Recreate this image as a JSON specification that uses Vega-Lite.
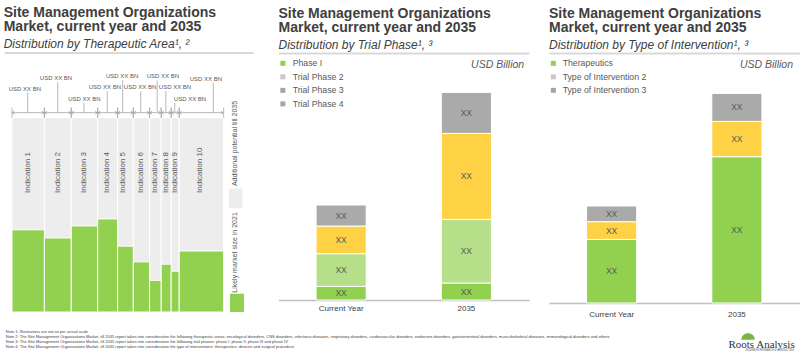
{
  "$schema": "https://vega.github.io/schema/vega-lite/v6.json",
  "padding": {"left": 3, "top": 5, "right": 0, "bottom": 0},
  "background": "white",
  "config": {
    "font": "Liberation Sans",
    "view": {"stroke": null},
    "title": {"anchor": "start", "fontSize": 14, "fontWeight": "bold", "color": "#404040", "lineHeight": 14, "subtitleFontSize": 12, "subtitleFontStyle": "italic", "subtitleColor": "#404040", "subtitlePadding": 5.5, "offset": 2}
  },
  "datasets": {
    "ind": [
      {"n": "Indication 1", "x0": 0, "x1": 15.3, "v": 42.3, "tot": 100, "cx": 7.4, "lx": 7.4, "tx": 6.1, "ly": 112.9},
      {"n": "Indication 2", "x0": 15.3, "x1": 28.0, "v": 38.1, "tot": 100, "cx": 21.9, "lx": 21.6, "tx": 20.8, "ly": 118.3},
      {"n": "Indication 3", "x0": 28.0, "x1": 40.5, "v": 44.3, "tot": 100, "cx": 34.2, "lx": 34.0, "tx": 34.2, "ly": 107.7},
      {"n": "Indication 4", "x0": 40.5, "x1": 49.9, "v": 47.9, "tot": 100, "cx": 45.0, "lx": 45.0, "tx": 43.9, "ly": 113.7},
      {"n": "Indication 5", "x0": 49.9, "x1": 57.3, "v": 33.9, "tot": 100, "cx": 52.4, "lx": 52.3, "tx": 52.0, "ly": 119.2},
      {"n": "Indication 6", "x0": 57.3, "x1": 65.0, "v": 25.8, "tot": 100, "cx": 61.0, "lx": 60.8, "tx": 60.5, "ly": 113.7},
      {"n": "Indication 7", "x0": 65.0, "x1": 70.5, "v": 16.3, "tot": 100, "cx": 67.7, "lx": 68.6, "tx": 71.3, "ly": 119.2},
      {"n": "Indication 8", "x0": 70.5, "x1": 75.2, "v": 24.6, "tot": 100, "cx": 72.8, "lx": 72.7, "tx": 77.0, "ly": 113.7},
      {"n": "Indication 9", "x0": 75.2, "x1": 79.0, "v": 21.0, "tot": 100, "cx": 77.0, "lx": 76.9, "tx": 84.1, "ly": 107.7},
      {"n": "Indication 10", "x0": 79.0, "x1": 100, "v": 31.4, "tot": 100, "cx": 88.8, "lx": 95.1, "tx": 91.6, "ly": 118.0}
    ],
    "phase": [
      {"yr": "Current Year", "phase": "Phase I", "v": 1.36},
      {"yr": "Current Year", "phase": "Trial Phase 2", "v": 3.27},
      {"yr": "Current Year", "phase": "Trial Phase 3", "v": 2.77},
      {"yr": "Current Year", "phase": "Trial Phase 4", "v": 2.10},
      {"yr": "2035", "phase": "Phase I", "v": 1.70},
      {"yr": "2035", "phase": "Trial Phase 2", "v": 6.36},
      {"yr": "2035", "phase": "Trial Phase 3", "v": 8.60},
      {"yr": "2035", "phase": "Trial Phase 4", "v": 4.10}
    ],
    "interv": [
      {"yr": "Current Year", "t": "Therapeutics", "v": 6.36},
      {"yr": "Current Year", "t": "Type of Intervention 2", "v": 1.77},
      {"yr": "Current Year", "t": "Type of Intervention 3", "v": 1.57},
      {"yr": "2035", "t": "Therapeutics", "v": 14.63},
      {"yr": "2035", "t": "Type of Intervention 2", "v": 3.53},
      {"yr": "2035", "t": "Type of Intervention 3", "v": 2.80}
    ],
    "notes": [
      {"row": 1, "t": "Note 1: Illustrations are not as per actual scale"},
      {"row": 2, "t": "Note 2: The Site Management Organizations Market, till 2035 report takes into consideration the following therapeutic areas: oncological disorders, CNS disorders, infectious diseases, respiratory disorders, cardiovascular disorders, endocrine disorders, gastrointestinal disorders, musculoskeletal diseases, immunological disorders and others"},
      {"row": 3, "t": "Note 3: The Site Management Organizations Market, till 2035 report takes into consideration the following trial phases: phase I, phase II, phase III and phase IV"},
      {"row": 4, "t": "Note 4: The Site Management Organizations Market, till 2035 report takes into consideration the type of interventions: therapeutics, devices and surgical procedure"}
    ]
  },
  "vconcat": [
    {
      "spacing": 19.5,
      "resolve": {"scale": {"fill": "independent", "color": "independent"}, "legend": {"color": "independent"}},
      "hconcat": [
        {
          "width": 254,
          "height": 259,
          "title": {"text": ["Site Management Organizations", "Market, current year and 2035"], "subtitle": "Distribution by Therapeutic Area¹, ²"},
          "data": {"name": "ind"},
          "layer": [
            {"data": {"values": [{"a": -3.45, "b": 114.2, "top": 133.3}]}, "mark": {"type": "rule", "color": "#d9d9d9", "strokeWidth": 2},
             "encoding": {"x": {"field": "a", "type": "quantitative", "scale": {"domain": [-3.3, 116.7], "nice": false, "zero": false}, "axis": null}, "x2": {"field": "b"},
                          "y": {"field": "top", "type": "quantitative", "scale": {"domain": [0, 133.3], "nice": false, "zero": false}, "axis": null}}},
            {"mark": {"type": "rect", "fill": "#ededed", "stroke": "#ffffff", "strokeWidth": 1},
             "encoding": {"x": {"field": "x0", "type": "quantitative", "scale": {"domain": [-3.3, 116.7], "nice": false, "zero": false}, "axis": null}, "x2": {"field": "x1"},
                          "y": {"field": "tot", "type": "quantitative", "scale": {"domain": [0, 133.3], "nice": false, "zero": false}, "axis": null}, "y2": {"datum": 0}}},
            {"mark": {"type": "rect", "fill": "#92d050", "stroke": "#ffffff", "strokeWidth": 1},
             "encoding": {"x": {"field": "x0", "type": "quantitative", "scale": {"domain": [-3.3, 116.7], "nice": false, "zero": false}, "axis": null}, "x2": {"field": "x1"},
                          "y": {"field": "v", "type": "quantitative", "scale": {"domain": [0, 133.3], "nice": false, "zero": false}, "axis": null}, "y2": {"datum": 0}}},
            {"mark": {"type": "text", "angle": 270, "align": "left", "baseline": "middle", "fontSize": 8, "color": "#595959"},
             "encoding": {"x": {"field": "cx", "type": "quantitative", "scale": {"domain": [-3.3, 116.7], "nice": false, "zero": false}, "axis": null},
                          "y": {"datum": 61.3, "type": "quantitative", "scale": {"domain": [0, 133.3], "nice": false, "zero": false}, "axis": null}, "text": {"field": "n"}}},
            {"mark": {"type": "rule", "color": "#a6a6a6", "strokeWidth": 0.8},
             "encoding": {"x": {"field": "x0", "type": "quantitative", "scale": {"domain": [-3.3, 116.7], "nice": false, "zero": false}, "axis": null}, "x2": {"field": "x1"},
                          "y": {"datum": 102.6, "type": "quantitative", "scale": {"domain": [0, 133.3], "nice": false, "zero": false}, "axis": null}}},
            {"mark": {"type": "rule", "color": "#a6a6a6", "strokeWidth": 0.8},
             "encoding": {"x": {"field": "x0", "type": "quantitative", "scale": {"domain": [-3.3, 116.7], "nice": false, "zero": false}, "axis": null},
                          "y": {"datum": 100, "type": "quantitative", "scale": {"domain": [0, 133.3], "nice": false, "zero": false}, "axis": null}, "y2": {"datum": 105.2}}},
            {"mark": {"type": "rule", "color": "#a6a6a6", "strokeWidth": 0.8},
             "encoding": {"x": {"field": "x1", "type": "quantitative", "scale": {"domain": [-3.3, 116.7], "nice": false, "zero": false}, "axis": null},
                          "y": {"datum": 100, "type": "quantitative", "scale": {"domain": [0, 133.3], "nice": false, "zero": false}, "axis": null}, "y2": {"datum": 105.2}}},
            {"mark": {"type": "point", "shape": "M1.6,-1L0.4,0L1.6,1", "size": 10, "filled": false, "stroke": "#8c8c8c", "strokeWidth": 0.7, "opacity": 1},
             "encoding": {"x": {"field": "x0", "type": "quantitative", "scale": {"domain": [-3.3, 116.7], "nice": false, "zero": false}, "axis": null},
                          "y": {"datum": 102.6, "type": "quantitative", "scale": {"domain": [0, 133.3], "nice": false, "zero": false}, "axis": null}}},
            {"mark": {"type": "point", "shape": "M-1.6,-1L-0.4,0L-1.6,1", "size": 10, "filled": false, "stroke": "#8c8c8c", "strokeWidth": 0.7, "opacity": 1},
             "encoding": {"x": {"field": "x1", "type": "quantitative", "scale": {"domain": [-3.3, 116.7], "nice": false, "zero": false}, "axis": null},
                          "y": {"datum": 102.6, "type": "quantitative", "scale": {"domain": [0, 133.3], "nice": false, "zero": false}, "axis": null}}},
            {"mark": {"type": "rule", "color": "#a6a6a6", "strokeWidth": 0.8},
             "encoding": {"x": {"field": "lx", "type": "quantitative", "scale": {"domain": [-3.3, 116.7], "nice": false, "zero": false}, "axis": null},
                          "y": {"field": "ly", "type": "quantitative", "scale": {"domain": [0, 133.3], "nice": false, "zero": false}, "axis": null}, "y2": {"datum": 102.6}}},
            {"mark": {"type": "text", "align": "center", "baseline": "alphabetic", "dy": -2, "fontSize": 6, "color": "#595959"},
             "encoding": {"x": {"field": "tx", "type": "quantitative", "scale": {"domain": [-3.3, 116.7], "nice": false, "zero": false}, "axis": null},
                          "y": {"field": "ly", "type": "quantitative", "scale": {"domain": [0, 133.3], "nice": false, "zero": false}, "axis": null}, "text": {"value": "USD XX BN"}}},
            {"data": {"values": [{"a": 102.5, "b": 108.9, "c": 53.4, "d": 63.5}]}, "mark": {"type": "rect", "fill": "#ededed"},
             "encoding": {"x": {"field": "a", "type": "quantitative", "scale": {"domain": [-3.3, 116.7], "nice": false, "zero": false}, "axis": null}, "x2": {"field": "b"},
                          "y": {"field": "c", "type": "quantitative", "scale": {"domain": [0, 133.3], "nice": false, "zero": false}, "axis": null}, "y2": {"field": "d"}}},
            {"data": {"values": [{"a": 103, "b": 109.6, "c": 0, "d": 9.4}]}, "mark": {"type": "rect", "fill": "#92d050"},
             "encoding": {"x": {"field": "a", "type": "quantitative", "scale": {"domain": [-3.3, 116.7], "nice": false, "zero": false}, "axis": null}, "x2": {"field": "b"},
                          "y": {"field": "c", "type": "quantitative", "scale": {"domain": [0, 133.3], "nice": false, "zero": false}, "axis": null}, "y2": {"field": "d"}}},
            {"data": {"values": [{"t": "Additional potential till 2035", "a": 105.5, "c": 64.8}, {"t": "Likely market size in 2021", "a": 105.5, "c": 9.9}]}, "mark": {"type": "text", "angle": 270, "align": "left", "baseline": "middle", "fontSize": 7, "color": "#595959"},
             "encoding": {"x": {"field": "a", "type": "quantitative", "scale": {"domain": [-3.3, 116.7], "nice": false, "zero": false}, "axis": null},
                          "y": {"field": "c", "type": "quantitative", "scale": {"domain": [0, 133.3], "nice": false, "zero": false}, "axis": null}, "text": {"field": "t"}}}
          ]
        },
        {
          "width": 250.5,
          "height": 247,
          "title": {"text": ["Site Management Organizations", "Market, current year and 2035"], "subtitle": "Distribution by Trial Phase¹, ³"},
          "data": {"name": "phase"},
          "resolve": {"axis": {"x": "independent"}},
          "layer": [
            {"mark": {"type": "bar", "stroke": "#ffffff", "strokeWidth": 1},
             "encoding": {
               "x": {"field": "yr", "type": "nominal", "sort": ["Current Year", "2035"], "scale": {"paddingInner": 0.6, "paddingOuter": 0.3},
                     "axis": {"orient": "bottom", "title": null, "labelAngle": 0, "ticks": false, "domainColor": "#bfbfbf", "domainWidth": 1.5, "labelFontSize": 8, "labelColor": "#404040", "labelPadding": 4.5}},
               "y": {"field": "v", "type": "quantitative", "stack": "zero", "scale": {"domain": [0, 24.7], "nice": false, "zero": true}, "axis": null},
               "fill": {"field": "phase", "type": "nominal", "scale": {"range": ["#92d050", "#b5df88", "#ffd145", "#aaaaaa"]}, "legend": null},
               "order": {"field": "phase", "sort": "ascending"}
             }},
            {"mark": {"type": "square", "filled": true, "opacity": 0},
             "encoding": {
               "x": {"field": "yr", "type": "nominal", "sort": ["Current Year", "2035"], "axis": null},
               "y": {"field": "v", "type": "quantitative", "scale": {"domain": [0, 24.7], "nice": false, "zero": true}, "axis": null},
               "color": {"field": "phase", "type": "nominal", "scale": {"domain": ["Phase I", "Trial Phase 2", "Trial Phase 3", "Trial Phase 4"], "range": ["#92d050", "#c9c9c9", "#a6a6a6", "#a6a6a6"]},
                         "legend": {"orient": "none", "legendX": 0, "legendY": 6, "title": null, "symbolType": "square", "symbolSize": 25, "symbolOpacity": 1, "symbolStrokeWidth": 0, "labelFontSize": 8.7, "labelColor": "#595959", "rowPadding": 3.5, "labelOffset": 5.5}}
             }},
            {"mark": {"type": "text", "fontSize": 8.5, "color": "#595959", "baseline": "middle"},
             "encoding": {
               "x": {"field": "yr", "type": "nominal", "sort": ["Current Year", "2035"],
                     "axis": {"orient": "top", "labels": false, "ticks": false, "grid": false, "domainColor": "#d9d9d9", "domainWidth": 2,
                              "title": "USD Billion", "titleAngle": 0, "titleAlign": "right", "titleBaseline": "middle", "titleFontStyle": "italic", "titleFontWeight": "normal", "titleFontSize": 10.5, "titleColor": "#595959", "titleX": 245.2, "titleY": 11}},
               "y": {"field": "v", "type": "quantitative", "stack": "zero", "bandPosition": 0.5, "scale": {"domain": [0, 24.7], "nice": false, "zero": true}, "axis": null},
               "detail": {"field": "phase", "type": "nominal"},
               "order": {"field": "phase", "sort": "ascending"},
               "text": {"value": "XX"}
             }}
          ]
        },
        {
          "width": 250.5,
          "height": 250,
          "title": {"text": ["Site Management Organizations", "Market, current year and 2035"], "subtitle": "Distribution by Type of Intervention¹, ³"},
          "data": {"name": "interv"},
          "resolve": {"axis": {"x": "independent"}},
          "layer": [
            {"mark": {"type": "bar", "stroke": "#ffffff", "strokeWidth": 1},
             "encoding": {
               "x": {"field": "yr", "type": "nominal", "sort": ["Current Year", "2035"], "scale": {"paddingInner": 0.6, "paddingOuter": 0.3},
                     "axis": {"orient": "bottom", "title": null, "labelAngle": 0, "ticks": false, "domainColor": "#bfbfbf", "domainWidth": 1.5, "labelFontSize": 8, "labelColor": "#404040", "labelPadding": 7}},
               "y": {"field": "v", "type": "quantitative", "stack": "zero", "scale": {"domain": [0, 25], "nice": false, "zero": true}, "axis": null},
               "fill": {"field": "t", "type": "nominal", "scale": {"range": ["#92d050", "#ffd145", "#aaaaaa"]}, "legend": null},
               "order": {"field": "t", "sort": "ascending"}
             }},
            {"mark": {"type": "square", "filled": true, "opacity": 0},
             "encoding": {
               "x": {"field": "yr", "type": "nominal", "sort": ["Current Year", "2035"], "axis": null},
               "y": {"field": "v", "type": "quantitative", "scale": {"domain": [0, 25], "nice": false, "zero": true}, "axis": null},
               "color": {"field": "t", "type": "nominal", "scale": {"domain": ["Therapeutics", "Type of Intervention 2", "Type of Intervention 3"], "range": ["#92d050", "#c9c9c9", "#a6a6a6"]},
                         "legend": {"orient": "none", "legendX": 0, "legendY": 6, "title": null, "symbolType": "square", "symbolSize": 25, "symbolOpacity": 1, "symbolStrokeWidth": 0, "labelFontSize": 8.7, "labelColor": "#595959", "rowPadding": 3.5, "labelOffset": 5}}
             }},
            {"mark": {"type": "text", "fontSize": 8.5, "color": "#595959", "baseline": "middle"},
             "encoding": {
               "x": {"field": "yr", "type": "nominal", "sort": ["Current Year", "2035"],
                     "axis": {"orient": "top", "labels": false, "ticks": false, "grid": false, "domainColor": "#d9d9d9", "domainWidth": 2,
                              "title": "USD Billion", "titleAngle": 0, "titleAlign": "right", "titleBaseline": "middle", "titleFontStyle": "italic", "titleFontWeight": "normal", "titleFontSize": 10.5, "titleColor": "#595959", "titleX": 243.5, "titleY": 11}},
               "y": {"field": "v", "type": "quantitative", "stack": "zero", "bandPosition": 0.5, "scale": {"domain": [0, 25], "nice": false, "zero": true}, "axis": null},
               "detail": {"field": "t", "type": "nominal"},
               "order": {"field": "t", "sort": "ascending"},
               "text": {"value": "XX"}
             }}
          ]
        }
      ]
    },
    {
      "width": 794,
      "height": 28,
      "layer": [
        {"data": {"name": "notes"}, "mark": {"type": "text", "align": "left", "baseline": "middle", "fontSize": 4, "color": "#404040"},
         "encoding": {"x": {"datum": 0.001, "type": "quantitative", "scale": {"domain": [0, 1], "nice": false, "zero": false}, "axis": null},
                      "y": {"field": "row", "type": "quantitative", "scale": {"domain": [0.1, 5.7], "nice": false, "zero": false, "reverse": true}, "axis": null},
                      "text": {"field": "t"}}},
        {"data": {"values": [{"t": "Roots Analysis", "a": 0.9946, "c": 3.56}]}, "mark": {"type": "text", "align": "right", "baseline": "middle", "font": "Liberation Serif", "fontSize": 11, "color": "#333333"},
         "encoding": {"x": {"field": "a", "type": "quantitative", "scale": {"domain": [0, 1], "nice": false, "zero": false}, "axis": null},
                      "y": {"field": "c", "type": "quantitative", "scale": {"domain": [0.1, 5.7], "nice": false, "zero": false, "reverse": true}, "axis": null},
                      "text": {"field": "t"}}},
        {"data": {"values": [{"t": "BUSINESS RESEARCH & CONSULTING", "a": 0.9937, "c": 4.76}]}, "mark": {"type": "text", "align": "right", "baseline": "middle", "fontSize": 2.6, "color": "#555555"},
         "encoding": {"x": {"field": "a", "type": "quantitative", "scale": {"domain": [0, 1], "nice": false, "zero": false}, "axis": null},
                      "y": {"field": "c", "type": "quantitative", "scale": {"domain": [0.1, 5.7], "nice": false, "zero": false, "reverse": true}, "axis": null},
                      "text": {"field": "t"}}},
        {"data": {"values": [{"a": 0.9358, "c": 2.0}]}, "mark": {"type": "point", "shape": "M-1,0.4C-1,-0.9,1,-0.9,1,0.4Z", "size": 180, "filled": true, "color": "#7cb342", "opacity": 1},
         "encoding": {"x": {"field": "a", "type": "quantitative", "scale": {"domain": [0, 1], "nice": false, "zero": false}, "axis": null},
                      "y": {"field": "c", "type": "quantitative", "scale": {"domain": [0.1, 5.7], "nice": false, "zero": false, "reverse": true}, "axis": null}}}
      ]
    }
  ],
  "spacing": 9.5
}
